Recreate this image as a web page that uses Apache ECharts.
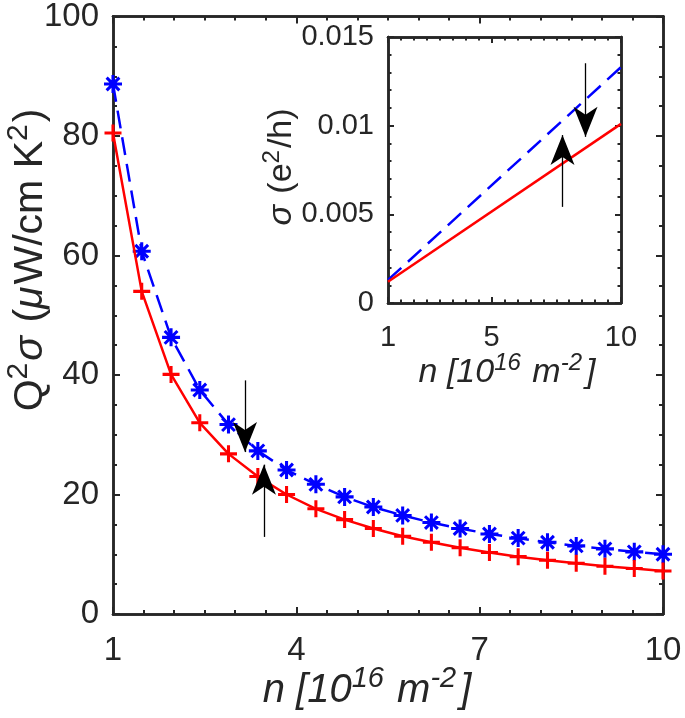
<!DOCTYPE html>
<html>
<head>
<meta charset="utf-8">
<script src="https://cdn.jsdelivr.net/npm/echarts@6/dist/echarts.min.js"></script>
<style>
html,body{margin:0;padding:0;background:#fff;}
#chart{width:685px;height:718px;}
</style>
</head>
<body>
<div id="chart"></div>
<script>
// ---- data ----
const nMain = [1, 1.47, 1.95, 2.42, 2.89, 3.37, 3.84, 4.32, 4.79, 5.26, 5.74, 6.21, 6.68, 7.16, 7.63, 8.11, 8.58, 9.05, 9.53, 10];
const q2sigmaRed = [80.5, 54.0, 40.1, 32.0, 26.8, 23.0, 20.0, 17.6, 15.8, 14.3, 13.0, 12.0, 11.1, 10.3, 9.6, 9.0, 8.5, 8.0, 7.6, 7.2];
const q2sigmaBlue = [88.7, 60.7, 46.3, 37.5, 31.7, 27.3, 24.1, 21.7, 19.6, 17.9, 16.5, 15.3, 14.3, 13.4, 12.7, 12.0, 11.4, 10.9, 10.4, 10.0];
const nInset = [1, 10];
const sigmaRed = [0.0012, 0.0101];
const sigmaBlue = [0.0013, 0.0133];
const mainXTicks = [1, 4, 7, 10];
const mainXMinor = [1.5, 2, 2.5, 3, 3.5, 4.5, 5, 5.5, 6, 6.5, 7.5, 8, 8.5, 9, 9.5];
const insetXTicks = [1, 5, 10];
const insetXMinor = [1.5, 2, 2.5, 3, 3.5, 4, 4.5, 5.5, 6, 6.5, 7, 7.5, 8, 8.5, 9, 9.5];
// arrows: [x, yFrom, yTo]
const mainArrowDown = [3.16, 39.1, 27.1];
const mainArrowUp = [3.47, 12.9, 25.0];
const insetArrowDown = [8.63, 0.01352, 0.00937];
const insetArrowUp = [7.74, 0.00542, 0.00947];

const TXT = '#262626';
const FF = '"Liberation Sans", Arial, Helvetica, sans-serif';
const plusPath = 'path://M-1.8,-10 L1.8,-10 L1.8,10 L-1.8,10 Z M-10,-1.8 L10,-1.8 L10,1.8 L-10,1.8 Z';
const starPath = 'path://M-1.7,-10 L1.7,-10 L1.7,10 L-1.7,10 Z M-10,-1.7 L10,-1.7 L10,1.7 L-10,1.7 Z ' +
  'M-5.87,-8.27 L8.27,5.87 L5.87,8.27 L-8.27,-5.87 Z M8.27,-5.87 L-5.87,8.27 L-8.27,5.87 L5.87,-8.27 Z';
const headPath = 'path://M0,0 L12,30 L0,22 L-12,30 Z';

const chart = echarts.init(document.getElementById('chart'), null, {renderer: 'canvas'});

function xAx(grid, min, max, ticks, pos, labels, len, fs) {
  return {
    type: 'value', gridIndex: grid, min: min, max: max, position: pos,
    axisLine: {show: true, onZero: false, lineStyle: {color: TXT, width: 2.5}},
    axisTick: {show: true, inside: true, length: len, customValues: ticks, lineStyle: {color: TXT, width: 2}},
    axisLabel: {show: labels, customValues: ticks, color: TXT, fontSize: fs, fontFamily: FF, margin: 20},
    splitLine: {show: false}
  };
}
function yAx(grid, min, max, interval, pos, labels, len, fs, fmt) {
  return {
    type: 'value', gridIndex: grid, min: min, max: max, interval: interval, position: pos,
    axisLine: {show: true, onZero: false, lineStyle: {color: TXT, width: 2.5}},
    axisTick: {show: true, inside: true, length: len, lineStyle: {color: TXT, width: 2}},
    axisLabel: {show: labels, color: TXT, fontSize: fs, fontFamily: FF, margin: 14, formatter: fmt},
    splitLine: {show: false}
  };
}

function arrowLine(a) {
  return [
    {coord: [a[0], a[1]], symbol: 'none'},
    {coord: [a[0], a[2]], symbol: headPath, symbolSize: [24, 30], symbolOffset: [0, 15]}
  ];
}
function markArrows(list) {
  return {
    silent: true, animation: false, z: 10,
    symbol: ['none', headPath],
    lineStyle: {color: '#000', width: 1.3, type: 'solid'},
    itemStyle: {color: '#000'},
    label: {show: false}, emphasis: {disabled: true},
    data: list.map(arrowLine)
  };
}

function richSet(fs, italicAll) {
  const sup = Math.round(fs * 0.72);
  const lh = fs + 6;
  const base = {fontFamily: FF, color: TXT, verticalAlign: 'bottom', lineHeight: lh};
  const up = Math.round(fs * 0.45);
  return {
    n: Object.assign({}, base, {fontSize: fs, fontStyle: italicAll ? 'italic' : 'normal'}),
    i: Object.assign({}, base, {fontSize: fs, fontStyle: 'italic'}),
    ip: Object.assign({}, base, {fontSize: fs, fontStyle: 'italic', padding: [0, Math.round(fs * 0.05), 0, 0]}),
    nb: Object.assign({}, base, {fontSize: fs, fontStyle: italicAll ? 'italic' : 'normal', padding: [0, 0, 0, Math.round(fs * 0.06)]}),
    s: Object.assign({}, base, {fontSize: sup, fontStyle: italicAll ? 'italic' : 'normal', padding: [0, Math.round(fs * 0.05), up, 0]})
  };
}

const option = {
  animation: false,
  backgroundColor: '#fff',
  grid: [
    {left: 113, top: 14, width: 550, height: 600, show: false},
    {left: 388, top: 37, width: 233, height: 266, show: true, backgroundColor: '#fff', borderWidth: 0, z: 5}
  ],
  xAxis: [
    xAx(0, 1, 10, mainXTicks, 'bottom', true, 7, 33),
    xAx(0, 1, 10, mainXMinor, 'bottom', false, 4, 33),
    xAx(0, 1, 10, mainXTicks, 'top', false, 7, 33),
    xAx(0, 1, 10, mainXMinor, 'top', false, 4, 33),
    Object.assign(xAx(1, 1, 10, insetXTicks, 'bottom', true, 6, 29), {z: 6}),
    Object.assign(xAx(1, 1, 10, insetXMinor, 'bottom', false, 3.5, 29), {z: 6}),
    Object.assign(xAx(1, 1, 10, insetXTicks, 'top', false, 6, 29), {z: 6}),
    Object.assign(xAx(1, 1, 10, insetXMinor, 'top', false, 3.5, 29), {z: 6})
  ],
  yAxis: [
    yAx(0, 0, 100, 20, 'left', true, 7, 33),
    yAx(0, 0, 100, 5, 'left', false, 4, 33),
    yAx(0, 0, 100, 20, 'right', false, 7, 33),
    yAx(0, 0, 100, 5, 'right', false, 4, 33),
    Object.assign(yAx(1, 0, 0.015, 0.005, 'left', true, 6, 29, function (v) { return v === 0 ? '0' : String(+v.toFixed(3)); }), {z: 6}),
    Object.assign(yAx(1, 0, 0.015, 0.001, 'left', false, 3.5, 29), {z: 6}),
    Object.assign(yAx(1, 0, 0.015, 0.005, 'right', false, 6, 29), {z: 6}),
    Object.assign(yAx(1, 0, 0.015, 0.001, 'right', false, 3.5, 29), {z: 6})
  ],
  series: [
    {
      type: 'line', xAxisIndex: 0, yAxisIndex: 0, z: 3,
      data: nMain.map((x, i) => [x, q2sigmaBlue[i]]),
      lineStyle: {color: '#0000ff', width: 2.5, type: [18, 9]},
      symbol: starPath, symbolSize: 18, showAllSymbol: true,
      itemStyle: {color: '#0000ff', borderWidth: 0},
      silent: true
    },
    {
      type: 'line', xAxisIndex: 0, yAxisIndex: 0, z: 4,
      data: nMain.map((x, i) => [x, q2sigmaRed[i]]),
      lineStyle: {color: '#ff0000', width: 2.5},
      symbol: plusPath, symbolSize: 17, showAllSymbol: true,
      itemStyle: {color: '#ff0000', borderWidth: 0},
      silent: true,
      markLine: markArrows([mainArrowDown, mainArrowUp])
    },
    {
      type: 'line', xAxisIndex: 4, yAxisIndex: 4, z: 7,
      data: nInset.map((x, i) => [x, sigmaBlue[i]]),
      lineStyle: {color: '#0000ff', width: 2.5, type: [18, 9]},
      symbol: 'none', silent: true
    },
    {
      type: 'line', xAxisIndex: 4, yAxisIndex: 4, z: 8,
      data: nInset.map((x, i) => [x, sigmaRed[i]]),
      lineStyle: {color: '#ff0000', width: 2.5},
      symbol: 'none', silent: true,
      markLine: markArrows([insetArrowDown, insetArrowUp])
    }
  ],
  graphic: [
    {
      type: 'text', x: 28, y: 260, rotation: Math.PI / 2, z: 20,
      style: {
        text: '{n|Q}{s|2}{ip|σ}{n| (}{ip|μ}{n|W/cm K}{s|2}{n|)}',
        align: 'center', verticalAlign: 'middle', fill: TXT,
        rich: richSet(41, false)
      }
    },
    {
      type: 'text', x: 367, y: 688, z: 20,
      style: {
        text: '{i|n [10}{s|16}{i| m}{s|-2}{nb|]}',
        align: 'center', verticalAlign: 'middle', fill: TXT,
        rich: richSet(40, true)
      }
    },
    {
      type: 'text', x: 279, y: 167, rotation: Math.PI / 2, z: 20,
      style: {
        text: '{ip|σ}{n| (e}{s|2}{n|/h)}',
        align: 'center', verticalAlign: 'middle', fill: TXT,
        rich: richSet(34, false)
      }
    },
    {
      type: 'text', x: 507, y: 370, z: 20,
      style: {
        text: '{i|n [10}{s|16}{i| m}{s|-2}{nb|]}',
        align: 'center', verticalAlign: 'middle', fill: TXT,
        rich: richSet(34, true)
      }
    }
  ]
};
chart.setOption(option);
</script>
</body>
</html>
